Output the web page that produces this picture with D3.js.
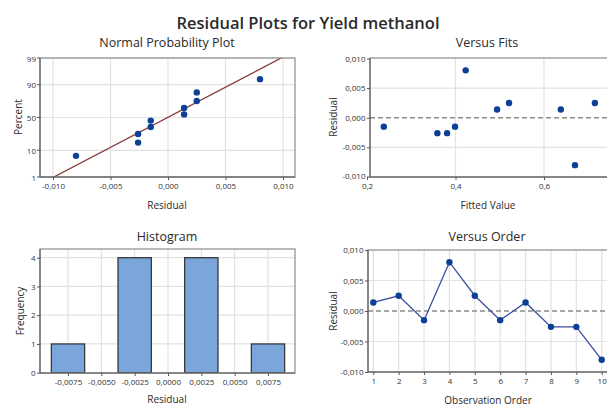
<!DOCTYPE html>
<html><head><meta charset="utf-8">
<script src="https://cdn.jsdelivr.net/npm/d3@7"></script>
<style>
body{margin:0;background:#fff;overflow:hidden}
svg{display:block;overflow:hidden}
text{font-family:"Open Sans","Noto Sans",sans-serif}
</style>
</head><body>
<svg id="c" width="607" height="406"></svg>
<script>
// ---- data ----
const residuals = [0.0014, 0.0025, -0.0015, 0.0080, 0.0025, -0.0015, 0.0014, -0.0026, -0.0026, -0.0080];
const observationOrder = [1, 2, 3, 4, 5, 6, 7, 8, 9, 10];
const fittedValues = [0.494, 0.521, 0.238, 0.423, 0.715, 0.399, 0.638, 0.359, 0.381, 0.670];
const normalPercents = [6.7, 16.3, 26.0, 35.6, 45.2, 54.8, 64.4, 74.0, 83.7, 93.3];
const histCenters = [-0.0075, -0.0050, -0.0025, 0, 0.0025, 0.0050, 0.0075];
const histCounts = [1, 0, 4, 0, 4, 0, 1];
const histBinWidth = 0.0025;
const residualTicks = [-0.010, -0.005, 0, 0.005, 0.010];
const percentTicks = [1, 10, 50, 90, 99];
const fitTicks = [0.2, 0.4, 0.6];
const histTicks = [-0.0075, -0.0050, -0.0025, 0, 0.0025, 0.0050, 0.0075];
const freqTicks = [0, 1, 2, 3, 4];
const orderTicks = [1, 2, 3, 4, 5, 6, 7, 8, 9, 10];

const loc = d3.formatLocale({decimal: ",", thousands: ".", grouping: [3], currency: ["", ""], minus: "-"});
const f3 = loc.format(".3f"), f4 = loc.format(".4f"), f1 = loc.format(".1f");

// inverse normal CDF (Acklam)
function probit(p) {
  const a = [-39.69683028665376, 220.9460984245205, -275.9285104469687, 138.3577518672690, -30.66479806614716, 2.506628277459239];
  const b = [-54.47609879822406, 161.5858368580409, -155.6989798598866, 66.80131188771972, -13.28068155288572];
  const c = [-0.007784894002430293, -0.3223964580411365, -2.400758277161838, -2.549732539343734, 4.374664141464968, 2.938163982698783];
  const d = [0.007784695709041462, 0.3224671290700398, 2.445134137142996, 3.754408661907416];
  const pl = 0.02425, ph = 1 - pl;
  let q, r;
  if (p < pl) { q = Math.sqrt(-2 * Math.log(p));
    return (((((c[0]*q+c[1])*q+c[2])*q+c[3])*q+c[4])*q+c[5]) / ((((d[0]*q+d[1])*q+d[2])*q+d[3])*q+1); }
  if (p <= ph) { q = p - 0.5; r = q*q;
    return (((((a[0]*r+a[1])*r+a[2])*r+a[3])*r+a[4])*r+a[5])*q / (((((b[0]*r+b[1])*r+b[2])*r+b[3])*r+b[4])*r+1); }
  q = Math.sqrt(-2 * Math.log(1 - p));
  return -(((((c[0]*q+c[1])*q+c[2])*q+c[3])*q+c[4])*q+c[5]) / ((((d[0]*q+d[1])*q+d[2])*q+d[3])*q+1);
}

const svg = d3.select("#c");
svg.append("rect").attr("width", 607).attr("height", 406).attr("fill", "#fff");

const GRID = "#e2e2e2", PT = "#0c3f96", TXT = "#333";

function panel(id, x0, y0, x1, y1) {
  svg.append("clipPath").attr("id", id).append("rect")
    .attr("x", x0).attr("y", y0).attr("width", x1 - x0).attr("height", y1 - y0);
  const g = svg.append("g");
  const grid = g.append("g");
  const content = g.append("g").attr("clip-path", `url(#${id})`);
  return {g, grid, content, x0, y0, x1, y1};
}
function vgrid(p, scale, vals) {
  p.grid.selectAll(null).data(vals).join("line")
    .attr("x1", d => scale(d)).attr("x2", d => scale(d)).attr("y1", p.y0).attr("y2", p.y1)
    .attr("stroke", GRID).attr("stroke-width", 1.2);
}
function hgrid(p, scale, vals) {
  p.grid.selectAll(null).data(vals).join("line")
    .attr("y1", d => scale(d)).attr("y2", d => scale(d)).attr("x1", p.x0).attr("x2", p.x1)
    .attr("stroke", GRID).attr("stroke-width", 1.2);
}
function frame(p) {
  p.g.append("rect").attr("x", p.x0).attr("y", p.y0).attr("width", p.x1 - p.x0).attr("height", p.y1 - p.y0)
    .attr("fill", "none").attr("stroke", "#8c8c8c").attr("stroke-width", 1.2);
  p.g.append("line").attr("x1", p.x0).attr("x2", p.x0).attr("y1", p.y0).attr("y2", p.y1).attr("stroke", "#555");
  p.g.append("line").attr("x1", p.x0).attr("x2", p.x1).attr("y1", p.y1).attr("y2", p.y1).attr("stroke", "#555");
}
function styleAxis(sel) {
  sel.select(".domain").remove();
  sel.selectAll(".tick line").attr("stroke", "#555");
  sel.selectAll(".tick text").attr("fill", TXT).style("font-size", "8px")
     .style("font-family", '"Open Sans","Noto Sans",sans-serif');
}
function xAxis(p, scale, vals, fmt) {
  const a = p.g.append("g").attr("transform", `translate(0,${p.y1})`)
    .call(d3.axisBottom(scale).tickValues(vals).tickFormat(fmt).tickSize(3).tickPadding(3));
  styleAxis(a);
}
function yAxis(p, scale, vals, fmt) {
  const a = p.g.append("g").attr("transform", `translate(${p.x0},0)`)
    .call(d3.axisLeft(scale).tickValues(vals).tickFormat(fmt).tickSize(3).tickPadding(1.5));
  styleAxis(a);
}
function label(x, y, txt, size, rot, weight) {
  const t = svg.append("text").attr("x", x).attr("y", y).attr("text-anchor", "middle")
    .attr("dominant-baseline", "central").attr("fill", "#2a2a2a").style("font-size", size + "px")
    .style("font-weight", weight || 400).text(txt);
  if (rot) t.attr("transform", `rotate(-90,${x},${y})`);
  return t;
}

// ---- titles ----
label(308, 22, "Residual Plots for Yield methanol", 16.5, false, 600);
label(167, 42, "Normal Probability Plot", 12.5, false, 500);
label(487, 42, "Versus Fits", 12.5, false, 500);
label(167, 236, "Histogram", 12.5, false, 500);
label(487, 236, "Versus Order", 12.5, false, 500);

// ---- 1. Normal probability plot ----
{
  const p = panel("cp1", 40, 58, 295, 177);
  const xs = d3.scaleLinear().domain([-0.010, 0.010]).range([53, 283]);
  const zs = d3.scaleLinear().domain([probit(0.01), probit(0.99)]).range([177, 58]);
  const ys = v => zs(probit(v / 100));
  vgrid(p, xs, residualTicks);
  hgrid(p, ys, percentTicks);
  const mu = d3.mean(residuals), sd = d3.deviation(residuals);
  const z0 = probit(0.005), z1 = probit(0.995);
  p.content.append("line")
    .attr("x1", xs(mu + z0 * sd)).attr("y1", zs(z0)).attr("x2", xs(mu + z1 * sd)).attr("y2", zs(z1))
    .attr("stroke", "#8e3b3b").attr("stroke-width", 1.3);
  const sorted = residuals.slice().sort(d3.ascending);
  p.content.selectAll(null).data(sorted).join("circle")
    .attr("cx", d => xs(d)).attr("cy", (d, i) => ys(normalPercents[i])).attr("r", 3.2).attr("fill", PT);
  frame(p);
  xAxis(p, xs, residualTicks, f3);
  const a = p.g.append("g").attr("transform", `translate(${p.x0},0)`);
  a.selectAll(null).data(percentTicks).join("line")
    .attr("x1", -3).attr("x2", 0).attr("y1", d => ys(d)).attr("y2", d => ys(d)).attr("stroke", "#555");
  a.selectAll(null).data(percentTicks).join("text")
    .attr("x", -4).attr("y", d => ys(d)).attr("text-anchor", "end").attr("dominant-baseline", "central")
    .attr("fill", TXT).style("font-size", "8px").text(d => d);
  label(167, 205, "Residual", 10);
  label(18, 117, "Percent", 10, true);
}

// ---- 2. Versus fits ----
{
  const p = panel("cp2", 370, 58, 660, 177);
  const xs = d3.scaleLinear().domain([0.2, 0.6]).range([367, 544]);
  const ys = d3.scaleLinear().domain([-0.010, 0.010]).range([177, 58.5]);
  vgrid(p, xs, [0.4, 0.6, 0.8]);
  hgrid(p, ys, [-0.005, 0.005]);
  p.content.append("line").attr("x1", p.x0).attr("x2", p.x1).attr("y1", ys(0)).attr("y2", ys(0))
    .attr("stroke", "#8a8a8a").attr("stroke-width", 1.3).attr("stroke-dasharray", "5,3");
  p.content.selectAll(null).data(fittedValues).join("circle")
    .attr("cx", d => xs(d)).attr("cy", (d, i) => ys(residuals[i])).attr("r", 3.2).attr("fill", PT);
  frame(p);
  xAxis(p, xs, fitTicks, f1);
  yAxis(p, ys, residualTicks.slice(1), f3);
  // bottom label drawn slightly higher to keep clear of the x tick label
  p.g.append("text").attr("x", p.x0 - 4.5).attr("y", ys(-0.010) - 1.5).attr("text-anchor", "end")
    .attr("dominant-baseline", "central").attr("fill", TXT).style("font-size", "8px").text(f3(-0.010));
  p.g.append("line").attr("x1", p.x0 - 3).attr("x2", p.x0).attr("y1", ys(-0.010)).attr("y2", ys(-0.010)).attr("stroke", "#555");
  label(488, 205, "Fitted Value", 10);
  label(333, 117, "Residual", 10, true);
}

// ---- 3. Histogram ----
{
  const p = panel("cp3", 40, 249, 295, 373);
  const xs = d3.scaleLinear().domain([-0.0096, 0.0096]).range([40, 296]);
  const ys = d3.scaleLinear().domain([0, 4]).range([372.7, 257.7]);
  vgrid(p, xs, histTicks);
  hgrid(p, ys, [1, 2, 3, 4]);
  p.content.selectAll(null).data(histCenters).join("rect")
    .attr("x", d => xs(d - histBinWidth / 2)).attr("width", d => xs(d + histBinWidth / 2) - xs(d - histBinWidth / 2))
    .attr("y", (d, i) => ys(histCounts[i])).attr("height", (d, i) => ys(0) - ys(histCounts[i]))
    .attr("fill", "#7ba6dc").attr("stroke", "#2e2e2e").attr("stroke-width", (d, i) => histCounts[i] ? 1.2 : 0);
  frame(p);
  xAxis(p, xs, histTicks, f4);
  yAxis(p, ys, freqTicks, d => d);
  label(167, 399, "Residual", 10);
  label(20, 311, "Frequency", 10, true);
}

// ---- 4. Versus order ----
{
  const p = panel("cp4", 368, 250, 660, 372);
  const xs = d3.scaleLinear().domain([1, 10]).range([373.3, 601.7]);
  const ys = d3.scaleLinear().domain([-0.010, 0.010]).range([372, 250]);
  vgrid(p, xs, orderTicks);
  hgrid(p, ys, [-0.005, 0.005]);
  p.content.append("line").attr("x1", p.x0).attr("x2", p.x1).attr("y1", ys(0)).attr("y2", ys(0))
    .attr("stroke", "#8a8a8a").attr("stroke-width", 1.3).attr("stroke-dasharray", "5,3");
  p.content.append("path").datum(observationOrder)
    .attr("d", d3.line().x(d => xs(d)).y((d, i) => ys(residuals[i])))
    .attr("fill", "none").attr("stroke", "#3d4d9e").attr("stroke-width", 1.3);
  p.content.selectAll(null).data(observationOrder).join("circle")
    .attr("cx", d => xs(d)).attr("cy", (d, i) => ys(residuals[i])).attr("r", 3.2).attr("fill", PT);
  frame(p);
  xAxis(p, xs, orderTicks, d => d);
  yAxis(p, ys, residualTicks, f3);
  label(488, 400, "Observation Order", 10);
  label(333, 311, "Residual", 10, true);
}
</script>
</body></html>
